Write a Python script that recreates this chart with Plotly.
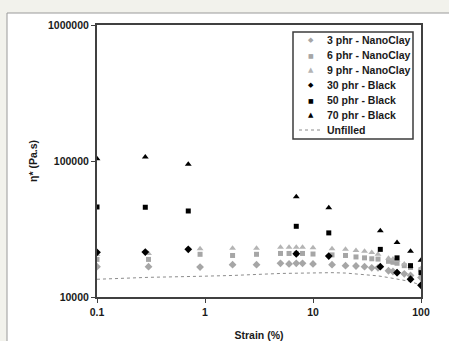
import plotly.graph_objects as go

# ---- data ----
nano_strain = [0.1, 0.3, 0.9, 1.8, 3, 5, 6, 7, 8, 10, 15, 20, 25, 30, 35, 40, 50, 55, 60, 70, 80, 100]
nano3 = [16700, 16700, 16600, 17300, 17300, 17700, 17500, 17700, 17700, 17500, 17300, 17000,
         16900, 16700, 16400, 16400, 15600, 15400, 15100, 14800, 14400, 13900]
nano6 = [18900, 18900, 20600, 20200, 20600, 20900, 20900, 20900, 20900, 20700, 20400, 20200,
         19700, 19400, 19100, 19000, 18300, 18000, 17700, 17000, 16500, 15900]
nano9 = [20500, 20900, 22600, 22800, 22800, 23200, 23200, 23200, 23200, 23000, 22600, 22400,
         22000, 21700, 21200, 20600, 19300, 19000, 18600, 17500, 16800, 16200]

black_strain = [0.1, 0.28, 0.7, 7, 14, 42, 60, 80, 100]
black30 = [21300, 21400, 22400, 20800, 20000, 16700, 15100, 13500, 12200]
black50 = [45900, 45700, 42900, 33100, 29600, 22400, 19400, 17000, 15100]
black70 = [104000, 107000, 94600, 54600, 45400, 30700, 25200, 21700, 18600]

unf_strain = [0.1, 0.3, 0.9, 1.8, 5, 10, 15, 20, 30, 40, 50, 60, 70, 80, 100]
unfilled = [13500, 13950, 14200, 14400, 14900, 15100, 15100, 15000, 14600, 14300, 13900, 13600, 13300, 13000, 12200]

x_ticks = [0.1, 1, 10, 100]
x_ticktext = ["0.1", "1", "10", "100"]
y_ticks = [10000, 100000, 1000000]
y_ticktext = ["10000", "100000", "1000000"]

series = [
    ("3 phr - NanoClay", nano_strain, nano3, "diamond", "#a6a6a6", 6),
    ("6 phr - NanoClay", nano_strain, nano6, "square", "#a6a6a6", 5),
    ("9 phr - NanoClay", nano_strain, nano9, "triangle-up", "#b4b4b4", 6),
    ("30 phr - Black", black_strain, black30, "diamond", "#000000", 6),
    ("50 phr - Black", black_strain, black50, "square", "#000000", 5),
    ("70 phr - Black", black_strain, black70, "triangle-up", "#000000", 6),
]
glyphs = {"diamond": "\u25C6", "square": "\u25A0", "triangle-up": "\u25B2"}

FONT = "Liberation Sans, Arial, sans-serif"
TXT = "#1a1a1a"

fig = go.Figure()
fig.add_trace(go.Scatter(x=unf_strain, y=unfilled, mode="lines", name="Unfilled",
                         line=dict(color="#8c8c8c", width=1, dash="dot"), showlegend=False))
for name, xs, ys, sym, col, sz in series:
    fig.add_trace(go.Scatter(x=xs, y=ys, mode="markers", name=name, showlegend=False,
                             marker=dict(symbol=sym, color=col, size=sz, line=dict(width=0))))

# plot-area geometry (pixels) for converting legend positions
L, R, T, B = 97, 421, 25, 297
W, H = R - L, B - T
def px(x):
    return (x - L) / W
def py(y):
    return (B - y) / H

shapes = [
    # white panel
    dict(type="rect", xref="paper", yref="paper", x0=px(7), x1=px(452), y0=py(13), y1=py(350),
         fillcolor="white", line=dict(color="#9a9a9a", width=1), layer="below"),
    # legend box
    dict(type="rect", xref="paper", yref="paper", x0=px(293), x1=px(413), y0=py(32), y1=py(139),
         fillcolor="white", line=dict(color="#3c3c3c", width=1.5), layer="above"),
    # legend line for Unfilled
    dict(type="line", xref="paper", yref="paper", x0=px(299), x1=px(323), y0=py(130), y1=py(130),
         line=dict(color="#8c8c8c", width=1, dash="dot"), layer="above"),
]

annotations = []
row_y = [40, 55, 70, 85, 100, 115, 130]
for i, (name, xs, ys, sym, col, sz) in enumerate(series):
    annotations.append(dict(xref="paper", yref="paper", x=px(311), y=py(row_y[i]), text=glyphs[sym],
                            showarrow=False, xanchor="center", yanchor="middle",
                            font=dict(family="DejaVu Sans", size=7 if sym != "square" else 6, color=col)))
    annotations.append(dict(xref="paper", yref="paper", x=px(325), y=py(row_y[i]), text="<b>%s</b>" % name,
                            showarrow=False, xanchor="left", yanchor="middle",
                            font=dict(family=FONT, size=10.5, color=TXT)))
annotations.append(dict(xref="paper", yref="paper", x=px(325), y=py(row_y[6]), text="<b>Unfilled</b>",
                        showarrow=False, xanchor="left", yanchor="middle",
                        font=dict(family=FONT, size=10.5, color=TXT)))

fig.update_layout(
    width=449, height=341,
    margin=dict(l=L, r=449 - R, t=T, b=341 - B),
    paper_bgcolor="#f2f2ec", plot_bgcolor="white",
    showlegend=False,
    font=dict(family=FONT, size=10.5, color=TXT),
    shapes=shapes, annotations=annotations,
    xaxis=dict(type="log", range=[-1, 2], tickvals=x_ticks, ticktext=["<b>%s</b>" % t for t in x_ticktext],
               ticks="outside", ticklen=4, tickcolor="#404040", showgrid=False, zeroline=False,
               showline=True, linecolor="#404040", linewidth=2, mirror=True, automargin=False,
               title=dict(text="<b>Strain (%)</b>", font=dict(size=10.5), standoff=24)),
    yaxis=dict(type="log", range=[4, 6], tickvals=y_ticks, ticktext=["<b>%s</b>" % t for t in y_ticktext],
               ticks="outside", ticklen=4, tickcolor="#404040", showgrid=False, zeroline=False,
               showline=True, linecolor="#404040", linewidth=2, mirror=True, automargin=False,
               title=dict(text="<b>\u03b7* (Pa.s)</b>", font=dict(size=10.5), standoff=8)),
)

fig.write_html("out.html", config={"displayModeBar": False},
               post_script="document.body.style.margin='0';document.body.style.background='#f2f2ec';")
